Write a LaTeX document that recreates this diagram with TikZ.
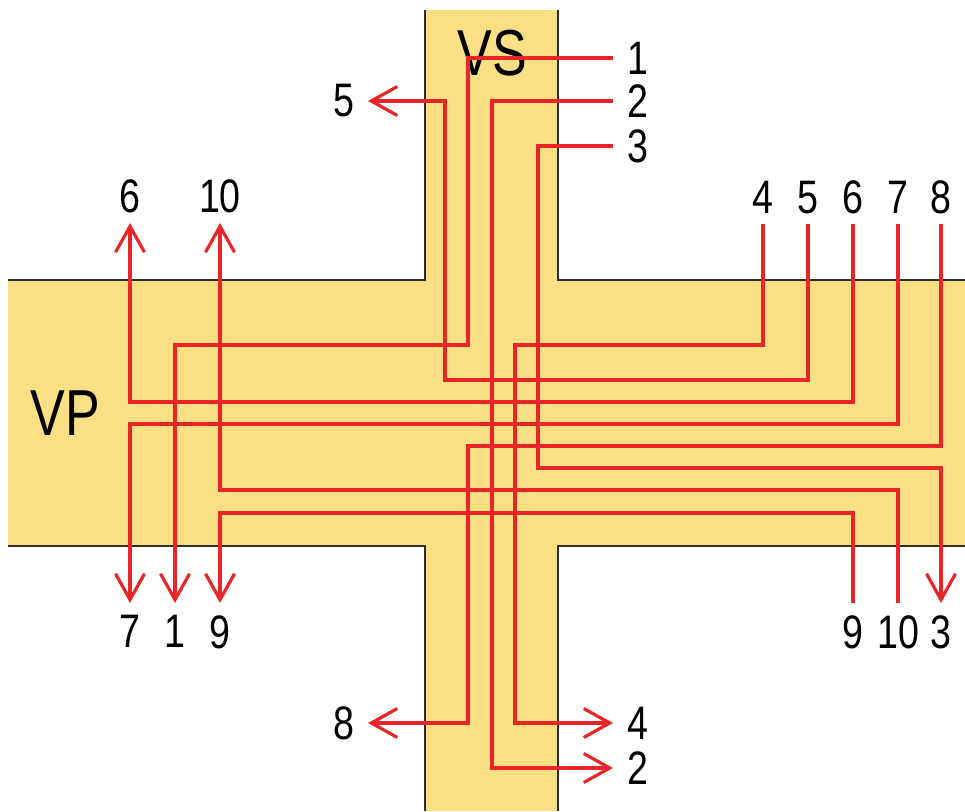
\documentclass[tikz,border=0pt]{standalone}
\usepackage{fontspec}
\setmainfont{Liberation Sans}[FakeStretch=0.8]
\usetikzlibrary{arrows.meta,positioning}

\definecolor{bandfill}{RGB}{250,223,133}
\definecolor{trackred}{RGB}{232,38,40}
\definecolor{rimgray}{RGB}{45,45,45}

\tikzset{
  rim/.style={draw=rimgray,line width=1.6pt},
  track/.style={draw=trackred,line width=3.2pt},
  arr/.style={-{Straight Barb[length=26pt,width=29pt]}},
  num/.style={font=\fontsize{47}{50}\selectfont,inner sep=0pt},
  big/.style={font=\fontsize{65}{70}\selectfont,inner sep=0pt}
}

\begin{document}
\begin{tikzpicture}[x=1pt,y=-1pt]
 \useasboundingbox (0,0) rectangle (965,811);
 % the two bands and their edges
 \fill[bandfill] (425,10) rectangle (558,811);\fill[bandfill] (8,280) rectangle (965,546);
 \draw[rim] (8,280)--(425,280)--(425,10);\draw[rim] (965,280)--(558,280)--(558,10);
 \draw[rim] (8,546)--(425,546)--(425,811);\draw[rim] (965,546)--(558,546)--(558,811);
 \node[big] (vs) at (492,53) {VS};\node[big] (vp) at (65,413) {VP};

 % free ends of the tracks
 \coordinate (s1) at (613,58);\coordinate (s2) at (613,101);\coordinate (s3) at (613,146);
 \foreach \n/\x in {4/763,5/808,6/853,7/898,8/941}{\coordinate (s\n) at (\x,224);}
 \coordinate (s9) at (853,603);\coordinate (s10) at (898,603);
 \coordinate (e1) at (175,603);\coordinate (e2) at (613,768);\coordinate (e3) at (941,603);
 \coordinate (e4) at (613,723);\coordinate (e5) at (368,101);\coordinate (e6) at (130,223);
 \coordinate (e7) at (130,603);\coordinate (e8) at (368,723);\coordinate (e9) at (220,603);
 \coordinate (e10) at (220,223);

 % the tracks
 \draw[track,arr] (s1) -| (468,345) -| (e1);
 \draw[track,arr] (s2) -| (492,768) -- (e2);
 \draw[track,arr] (s3) -| (538,468) -| (e3);
 \draw[track,arr] (s4) |- (515,345) |- (e4);
 \draw[track,arr] (s5) |- (445,380) |- (e5);
 \draw[track,arr] (s6) |- (130,402) -- (e6);
 \draw[track,arr] (s7) |- (130,424) -- (e7);
 \draw[track,arr] (s8) |- (468,446) |- (e8);
 \draw[track,arr] (s9) |- (220,513) -- (e9);
 \draw[track,arr] (s10) |- (220,490) -- (e10);

 % numbers
 \foreach \c/\t in {s1/1,s2/2,s3/3,e4/4,e2/2}{\node[num,right=14pt of \c] (l\c) {\t};}
 \foreach \c/\t in {e5/5,e8/8}{\node[num,left=13pt of \c] (l\c) {\t};}
 \foreach \c/\t in {e6/6,e10/10,s4/4,s5/5,s6/6,s7/7,s8/8}{\node[num,above=10pt of \c] (l\c) {\t};}
 \foreach \c/\t in {e7/7,e1/1,e9/9,s9/9,s10/10,e3/3}{\node[num,below=12pt of \c] (l\c) {\t};}
\end{tikzpicture}
\end{document}
